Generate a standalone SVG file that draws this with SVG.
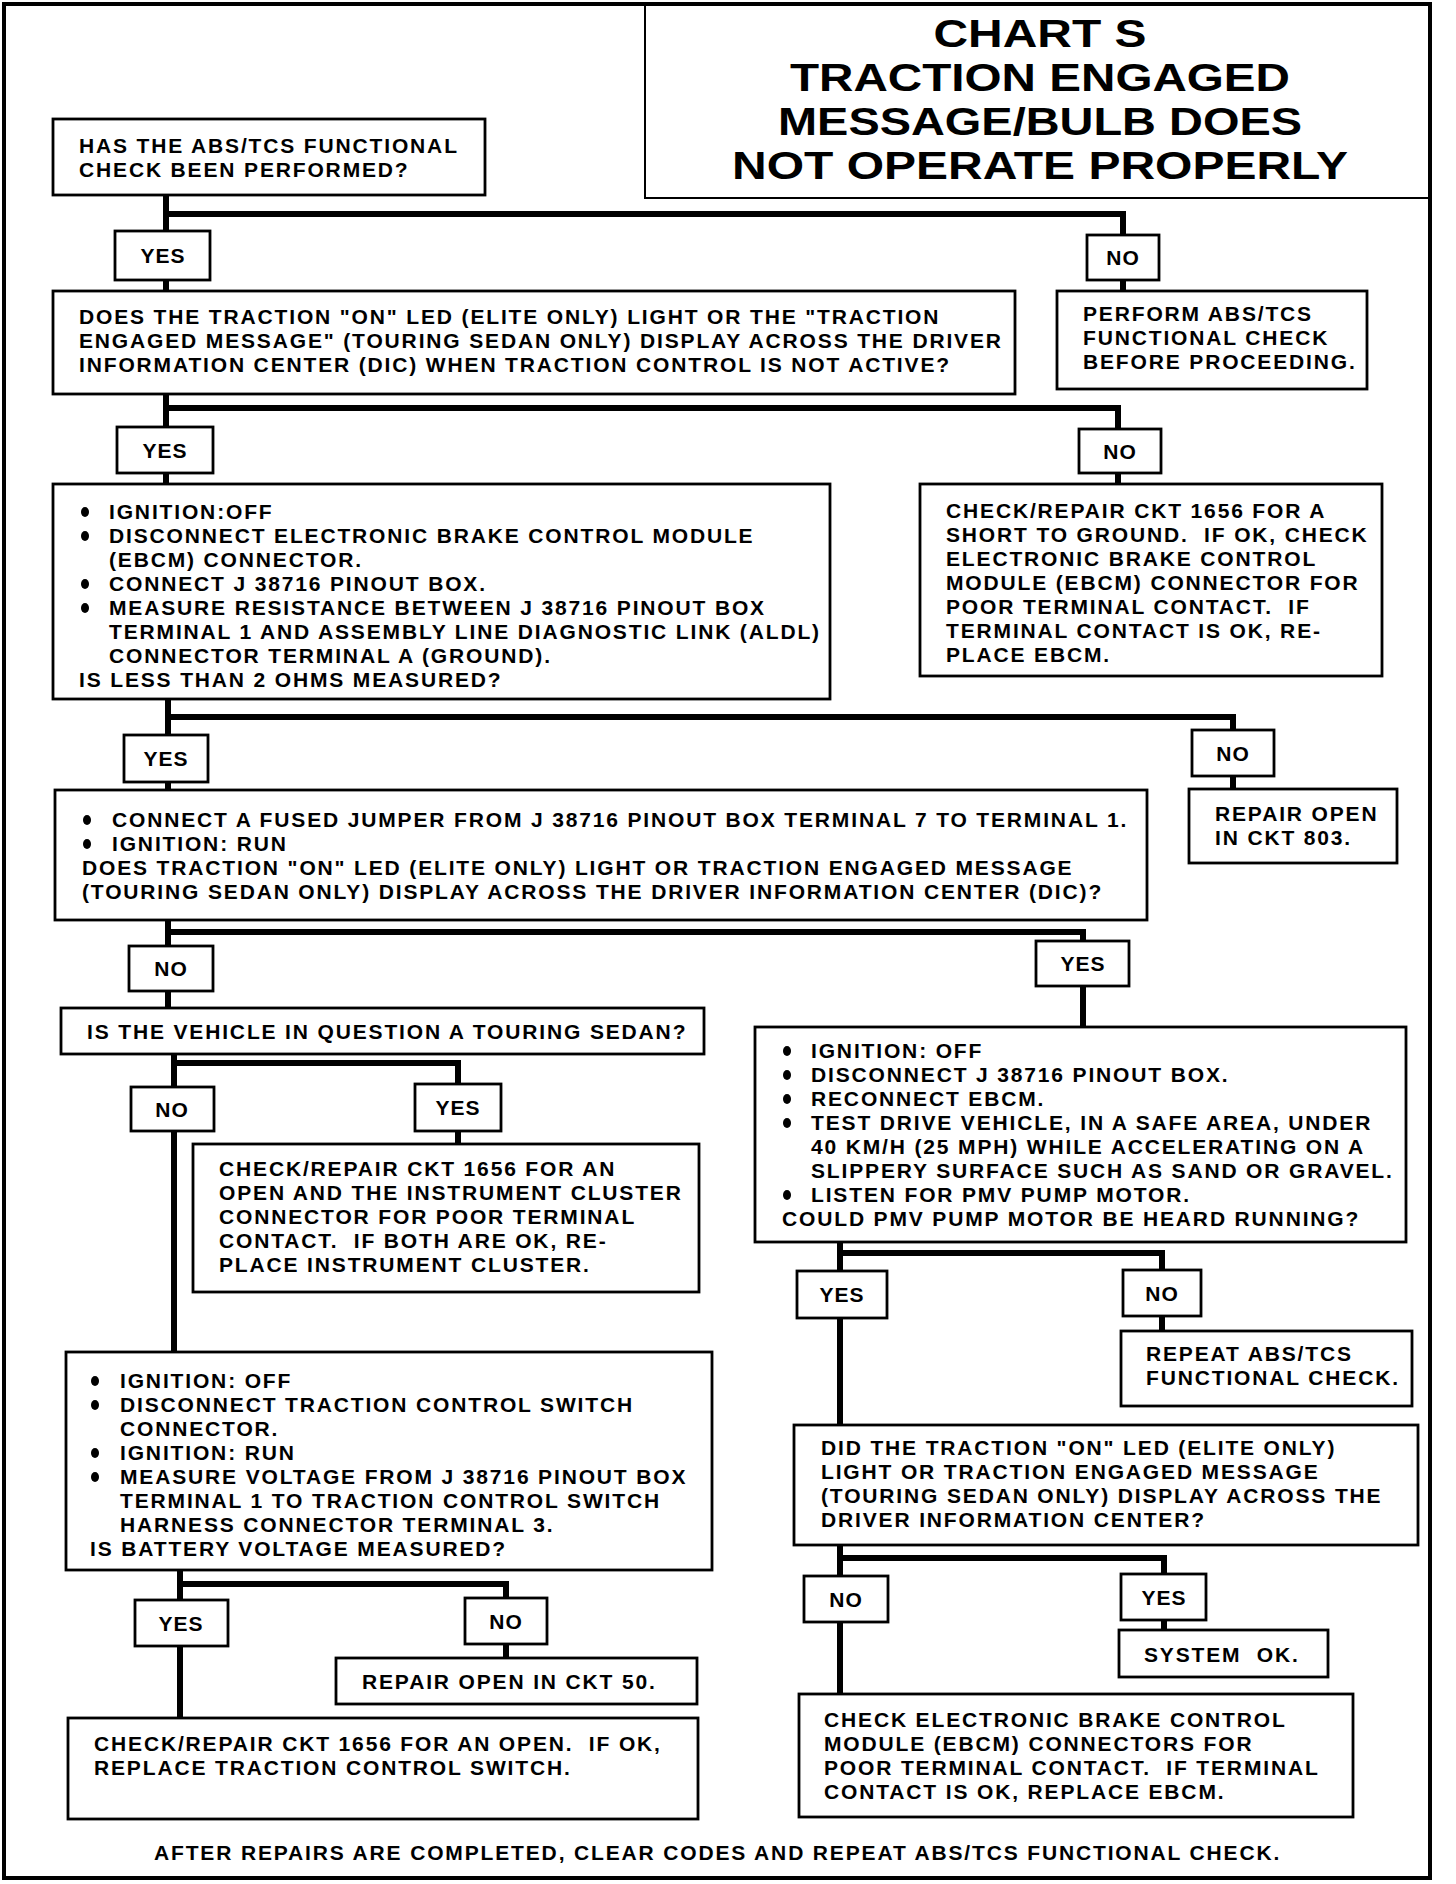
<svg xmlns="http://www.w3.org/2000/svg" width="1456" height="1884" viewBox="0 0 1456 1884">
<style>
.bx{fill:#fff;stroke:#000;stroke-width:2.8}
.t{font-family:"Liberation Sans",Arial,sans-serif;font-weight:bold;font-size:21px;letter-spacing:1.85px;fill:#000;white-space:pre}
.l{font-family:"Liberation Sans",Arial,sans-serif;font-weight:bold;font-size:21px;letter-spacing:1px;fill:#000;text-anchor:middle}
.ti{font-family:"Liberation Sans",Arial,sans-serif;font-weight:bold;font-size:39px;fill:#000;text-anchor:middle}
.c{fill:none;stroke:#000;stroke-width:6}
</style>
<rect width="1456" height="1884" fill="#fff"/>
<rect x="4" y="4" width="1426" height="1874" fill="none" stroke="#000" stroke-width="4"/>
<g id="title">
<path d="M645 4 V198 H1430" fill="none" stroke="#000" stroke-width="2"/>
<text class="ti" x="1040" y="47" textLength="213" lengthAdjust="spacingAndGlyphs">CHART S</text>
<text class="ti" x="1040" y="91" textLength="500" lengthAdjust="spacingAndGlyphs">TRACTION ENGAGED</text>
<text class="ti" x="1040" y="135" textLength="524" lengthAdjust="spacingAndGlyphs">MESSAGE/BULB DOES</text>
<text class="ti" x="1040" y="179" textLength="616" lengthAdjust="spacingAndGlyphs">NOT OPERATE PROPERLY</text>
</g>
<g id="connectors">
<path class="c" d="M166 195 V291 M166 214 H1123 V291"/>
<path class="c" d="M166 394 V484 M166 408 H1118 V484"/>
<path class="c" d="M168 699 V790 M168 717 H1233 V789"/>
<path class="c" d="M168 920 V1008 M168 932 H1083 V1027"/>
<path class="c" d="M174 1054 V1352 M174 1063 H458 V1144"/>
<path class="c" d="M180 1570 V1718 M180 1584 H506 V1658"/>
<path class="c" d="M840 1242 V1425 M840 1253 H1162 V1331"/>
<path class="c" d="M840 1545 V1694 M840 1558 H1164 V1630"/>
</g>
<g id="q1"><rect class="bx" x="53" y="119" width="432" height="76"/>
<text class="t" x="79" y="153">HAS THE ABS/TCS FUNCTIONAL</text>
<text class="t" x="79" y="177">CHECK BEEN PERFORMED?</text></g>
<g id="yes1"><rect class="bx" x="115" y="231" width="95" height="49"/><text class="l" x="163" y="263">YES</text></g>
<g id="no1"><rect class="bx" x="1087" y="235" width="72" height="45"/><text class="l" x="1123" y="265">NO</text></g>
<g id="q2"><rect class="bx" x="53" y="291" width="962" height="103"/>
<text class="t" x="79" y="324">DOES THE TRACTION "ON" LED (ELITE ONLY) LIGHT OR THE "TRACTION</text>
<text class="t" x="79" y="348">ENGAGED MESSAGE" (TOURING SEDAN ONLY) DISPLAY ACROSS THE DRIVER</text>
<text class="t" x="79" y="372">INFORMATION CENTER (DIC) WHEN TRACTION CONTROL IS NOT ACTIVE?</text></g>
<g id="perform"><rect class="bx" x="1057" y="291" width="310" height="98"/>
<text class="t" x="1083" y="321">PERFORM ABS/TCS</text>
<text class="t" x="1083" y="345">FUNCTIONAL CHECK</text>
<text class="t" x="1083" y="369">BEFORE PROCEEDING.</text></g>
<g id="yes2"><rect class="bx" x="117" y="427" width="96" height="46"/><text class="l" x="165" y="458">YES</text></g>
<g id="no2"><rect class="bx" x="1079" y="429" width="82" height="44"/><text class="l" x="1120" y="459">NO</text></g>
<g id="ohms"><rect class="bx" x="53" y="484" width="777" height="215"/>
<ellipse cx="85" cy="512" rx="4" ry="5"/><ellipse cx="85" cy="536" rx="4" ry="5"/><ellipse cx="85" cy="584" rx="4" ry="5"/><ellipse cx="85" cy="608" rx="4" ry="5"/>
<text class="t" x="109" y="519">IGNITION:OFF</text>
<text class="t" x="109" y="543">DISCONNECT ELECTRONIC BRAKE CONTROL MODULE</text>
<text class="t" x="109" y="567">(EBCM) CONNECTOR.</text>
<text class="t" x="109" y="591">CONNECT J 38716 PINOUT BOX.</text>
<text class="t" x="109" y="615">MEASURE RESISTANCE BETWEEN J 38716 PINOUT BOX</text>
<text class="t" x="109" y="639">TERMINAL 1 AND ASSEMBLY LINE DIAGNOSTIC LINK (ALDL)</text>
<text class="t" x="109" y="663">CONNECTOR TERMINAL A (GROUND).</text>
<text class="t" x="79" y="687">IS LESS THAN 2 OHMS MEASURED?</text></g>
<g id="short"><rect class="bx" x="920" y="484" width="462" height="192"/>
<text class="t" x="946" y="518">CHECK/REPAIR CKT 1656 FOR A</text>
<text class="t" x="946" y="542">SHORT TO GROUND.  IF OK, CHECK</text>
<text class="t" x="946" y="566">ELECTRONIC BRAKE CONTROL</text>
<text class="t" x="946" y="590">MODULE (EBCM) CONNECTOR FOR</text>
<text class="t" x="946" y="614">POOR TERMINAL CONTACT.  IF</text>
<text class="t" x="946" y="638">TERMINAL CONTACT IS OK, RE-</text>
<text class="t" x="946" y="662">PLACE EBCM.</text></g>
<g id="yes3"><rect class="bx" x="124" y="735" width="84" height="47"/><text class="l" x="166" y="766">YES</text></g>
<g id="no3"><rect class="bx" x="1192" y="730" width="82" height="46"/><text class="l" x="1233" y="761">NO</text></g>
<g id="jumper"><rect class="bx" x="55" y="790" width="1092" height="130"/>
<ellipse cx="87" cy="820" rx="4" ry="5"/><ellipse cx="87" cy="844" rx="4" ry="5"/>
<text class="t" x="112" y="827">CONNECT A FUSED JUMPER FROM J 38716 PINOUT BOX TERMINAL 7 TO TERMINAL 1.</text>
<text class="t" x="112" y="851">IGNITION: RUN</text>
<text class="t" x="82" y="875">DOES TRACTION "ON" LED (ELITE ONLY) LIGHT OR TRACTION ENGAGED MESSAGE</text>
<text class="t" x="82" y="899">(TOURING SEDAN ONLY) DISPLAY ACROSS THE DRIVER INFORMATION CENTER (DIC)?</text></g>
<g id="r803"><rect class="bx" x="1189" y="789" width="208" height="74"/>
<text class="t" x="1215" y="821">REPAIR OPEN</text>
<text class="t" x="1215" y="845">IN CKT 803.</text></g>
<g id="no4"><rect class="bx" x="129" y="946" width="84" height="45"/><text class="l" x="171" y="976">NO</text></g>
<g id="yes4"><rect class="bx" x="1036" y="941" width="93" height="45"/><text class="l" x="1083" y="971">YES</text></g>
<g id="sedan"><rect class="bx" x="61" y="1008" width="643" height="46"/>
<text class="t" x="87" y="1039">IS THE VEHICLE IN QUESTION A TOURING SEDAN?</text></g>
<g id="no5"><rect class="bx" x="131" y="1087" width="83" height="44"/><text class="l" x="172" y="1117">NO</text></g>
<g id="yes5"><rect class="bx" x="415" y="1084" width="86" height="47"/><text class="l" x="458" y="1115">YES</text></g>
<g id="cluster"><rect class="bx" x="193" y="1144" width="506" height="148"/>
<text class="t" x="219" y="1176">CHECK/REPAIR CKT 1656 FOR AN</text>
<text class="t" x="219" y="1200">OPEN AND THE INSTRUMENT CLUSTER</text>
<text class="t" x="219" y="1224">CONNECTOR FOR POOR TERMINAL</text>
<text class="t" x="219" y="1248">CONTACT.  IF BOTH ARE OK, RE-</text>
<text class="t" x="219" y="1272">PLACE INSTRUMENT CLUSTER.</text></g>
<g id="voltage"><rect class="bx" x="66" y="1352" width="646" height="218"/>
<ellipse cx="95" cy="1381" rx="4" ry="5"/><ellipse cx="95" cy="1405" rx="4" ry="5"/><ellipse cx="95" cy="1453" rx="4" ry="5"/><ellipse cx="95" cy="1477" rx="4" ry="5"/>
<text class="t" x="120" y="1388">IGNITION: OFF</text>
<text class="t" x="120" y="1412">DISCONNECT TRACTION CONTROL SWITCH</text>
<text class="t" x="120" y="1436">CONNECTOR.</text>
<text class="t" x="120" y="1460">IGNITION: RUN</text>
<text class="t" x="120" y="1484">MEASURE VOLTAGE FROM J 38716 PINOUT BOX</text>
<text class="t" x="120" y="1508">TERMINAL 1 TO TRACTION CONTROL SWITCH</text>
<text class="t" x="120" y="1532">HARNESS CONNECTOR TERMINAL 3.</text>
<text class="t" x="90" y="1556">IS BATTERY VOLTAGE MEASURED?</text></g>
<g id="yes6"><rect class="bx" x="135" y="1600" width="93" height="46"/><text class="l" x="181" y="1631">YES</text></g>
<g id="no6"><rect class="bx" x="465" y="1598" width="82" height="46"/><text class="l" x="506" y="1629">NO</text></g>
<g id="r50"><rect class="bx" x="336" y="1658" width="361" height="46"/>
<text class="t" x="362" y="1689">REPAIR OPEN IN CKT 50.</text></g>
<g id="switch"><rect class="bx" x="68" y="1718" width="630" height="101"/>
<text class="t" x="94" y="1751">CHECK/REPAIR CKT 1656 FOR AN OPEN.  IF OK,</text>
<text class="t" x="94" y="1775">REPLACE TRACTION CONTROL SWITCH.</text></g>
<g id="pump"><rect class="bx" x="755" y="1027" width="651" height="215"/>
<ellipse cx="787" cy="1051" rx="4" ry="5"/><ellipse cx="787" cy="1075" rx="4" ry="5"/><ellipse cx="787" cy="1099" rx="4" ry="5"/><ellipse cx="787" cy="1123" rx="4" ry="5"/><ellipse cx="787" cy="1195" rx="4" ry="5"/>
<text class="t" x="811" y="1058">IGNITION: OFF</text>
<text class="t" x="811" y="1082">DISCONNECT J 38716 PINOUT BOX.</text>
<text class="t" x="811" y="1106">RECONNECT EBCM.</text>
<text class="t" x="811" y="1130">TEST DRIVE VEHICLE, IN A SAFE AREA, UNDER</text>
<text class="t" x="811" y="1154">40 KM/H (25 MPH) WHILE ACCELERATING ON A</text>
<text class="t" x="811" y="1178">SLIPPERY SURFACE SUCH AS SAND OR GRAVEL.</text>
<text class="t" x="811" y="1202">LISTEN FOR PMV PUMP MOTOR.</text>
<text class="t" x="782" y="1226">COULD PMV PUMP MOTOR BE HEARD RUNNING?</text></g>
<g id="yes7"><rect class="bx" x="797" y="1271" width="90" height="47"/><text class="l" x="842" y="1302">YES</text></g>
<g id="no7"><rect class="bx" x="1123" y="1270" width="78" height="46"/><text class="l" x="1162" y="1301">NO</text></g>
<g id="repeat"><rect class="bx" x="1121" y="1331" width="291" height="75"/>
<text class="t" x="1146" y="1361">REPEAT ABS/TCS</text>
<text class="t" x="1146" y="1385">FUNCTIONAL CHECK.</text></g>
<g id="did"><rect class="bx" x="794" y="1425" width="624" height="120"/>
<text class="t" x="821" y="1455">DID THE TRACTION "ON" LED (ELITE ONLY)</text>
<text class="t" x="821" y="1479">LIGHT OR TRACTION ENGAGED MESSAGE</text>
<text class="t" x="821" y="1503">(TOURING SEDAN ONLY) DISPLAY ACROSS THE</text>
<text class="t" x="821" y="1527">DRIVER INFORMATION CENTER?</text></g>
<g id="no8"><rect class="bx" x="804" y="1576" width="84" height="46"/><text class="l" x="846" y="1607">NO</text></g>
<g id="yes8"><rect class="bx" x="1121" y="1574" width="85" height="46"/><text class="l" x="1164" y="1605">YES</text></g>
<g id="ok"><rect class="bx" x="1119" y="1630" width="209" height="47"/>
<text class="t" x="1144" y="1662">SYSTEM  OK.</text></g>
<g id="ebcm"><rect class="bx" x="799" y="1694" width="554" height="123"/>
<text class="t" x="824" y="1727">CHECK ELECTRONIC BRAKE CONTROL</text>
<text class="t" x="824" y="1751">MODULE (EBCM) CONNECTORS FOR</text>
<text class="t" x="824" y="1775">POOR TERMINAL CONTACT.  IF TERMINAL</text>
<text class="t" x="824" y="1799">CONTACT IS OK, REPLACE EBCM.</text></g>
<g id="footer"><text class="t" x="154" y="1860">AFTER REPAIRS ARE COMPLETED, CLEAR CODES AND REPEAT ABS/TCS FUNCTIONAL CHECK.</text></g>
</svg>
